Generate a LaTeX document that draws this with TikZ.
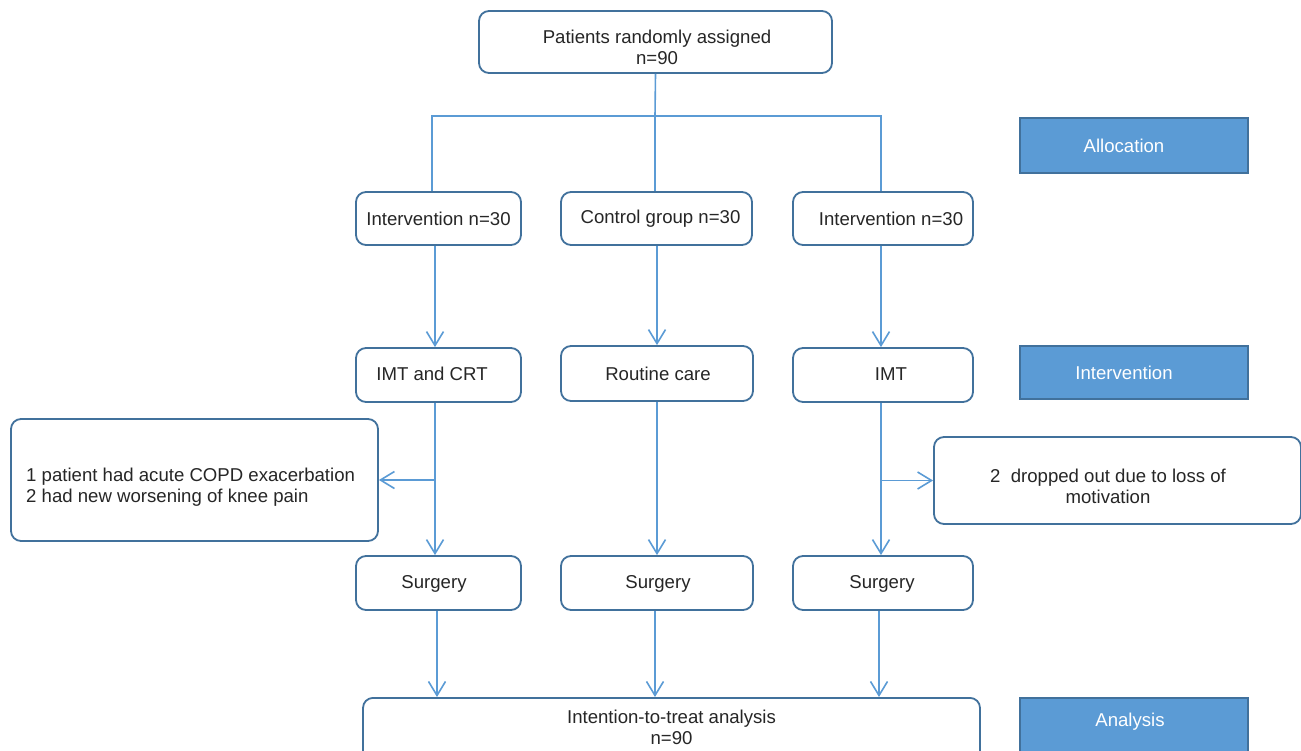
\documentclass[tikz,border=0pt]{standalone}
\usepackage{fontspec}
\setmainfont{Liberation Sans}
\usetikzlibrary{arrows.meta}
\definecolor{bord}{HTML}{41719C}
\definecolor{conn}{HTML}{5B9BD5}
\definecolor{txt}{HTML}{262626}
\tikzset{
  box/.style={draw=bord, line width=1.8pt, rounded corners=10pt, fill=white, text=txt, font=\fontsize{18.6}{21}\selectfont, align=center, inner sep=0pt},
  lab/.style={draw=bord, line width=1.8pt, fill=conn, text=white, font=\fontsize{18.6}{21}\selectfont, inner sep=0pt},
  plain/.style={text=txt, font=\fontsize{18.6}{21}\selectfont, align=center, inner sep=0pt},
  labtext/.style={text=white, font=\fontsize{18.6}{21}\selectfont, inner sep=0pt},
  conline/.style={draw=conn, line width=1.6pt},
  arr/.style={conline, -{Straight Barb[length=14pt,width=17pt,line width=1.6pt]}},
}
\begin{document}
\begin{tikzpicture}[x=1pt,y=-1pt]
\useasboundingbox (0,0) rectangle (1301,750);
\clip (0,0) rectangle (1301,750);
% top
\node[box, minimum width=353pt, minimum height=62pt] (top) at (655.5,42) {};
\node[plain] (topt) at (657,47) {Patients randomly assigned\\n=90};
% row 2
\node[box, minimum width=165pt, minimum height=53pt] (g1) at (438.5,218.5) {Intervention n=30};
\node[box, minimum width=191pt, minimum height=53pt] (g2) at (656.5,218.5) {\hspace*{8pt}Control group n=30};
\node[box, minimum width=180pt, minimum height=53pt] (g3) at (883,218.5) {\hspace*{16pt}Intervention n=30};
% row 3
\node[box, minimum width=165pt, minimum height=54pt] (i1) at (438.5,375) {};
\node[plain] (i1t) at (432,374) {IMT and CRT};
\node[box, minimum width=192pt, minimum height=55pt] (i2) at (657,373.5) {};
\node[plain] (i2t) at (658,374) {Routine care};
\node[box, minimum width=180pt, minimum height=54pt] (i3) at (883,375) {};
\node[plain] (i3t) at (891,374) {IMT};
% side boxes
\node[box, minimum width=367pt, minimum height=122pt] (s1) at (194.5,480) {};
\node[plain, align=left, anchor=west] (s1t) at (26,487) {1 patient had acute COPD exacerbation\\2 had new worsening of knee pain};
\node[box, minimum width=367pt, minimum height=87pt] (s3) at (1117.5,480.5) {};
\node[plain] (s3t) at (1108,486.5) {2\ \ dropped out due to loss of\\motivation};
% row 4
\node[box, minimum width=165pt, minimum height=54pt] (u1) at (438.5,583) {};
\node[plain] (u1t) at (434,584) {Surgery};
\node[box, minimum width=192pt, minimum height=54pt] (u2) at (657,583) {};
\node[plain] (u2t) at (658,584) {Surgery};
\node[box, minimum width=180pt, minimum height=54pt] (u3) at (883,583) {};
\node[plain] (u3t) at (882,584) {Surgery};
% bottom
\node[box, minimum width=617pt, minimum height=80pt, anchor=north] (an) at (671.5,697) {};
\node[plain] (ant) at (671.5,727) {Intention-to-treat analysis\\n=90};
% stage labels
\node[lab, minimum width=228pt, minimum height=55pt] (la) at (1134,145.5) {};
\node[labtext] (lat) at (1124,145.5) {Allocation};
\node[lab, minimum width=228pt, minimum height=53pt] (li) at (1134,372.5) {};
\node[labtext] (lit) at (1124,372.5) {Intervention};
\node[lab, minimum width=228pt, minimum height=60pt, anchor=north] (ly) at (1134,697) {};
\node[labtext] (lyt) at (1130,722) {Analysis};
% connectors
\coordinate (split) at (655,116);
\draw[conline] (top.south) -- (split);
\draw[conline] (g1.north -| 432,0) -- (432,116) -- (881,116) -- (g3.north -| 881,0);
\draw[conline] (split) -- (g2.north -| split);
\draw[arr] (g1.south -| 435,0) -- (i1.north -| 435,0);
\draw[arr] (g2.south -| 657,0) -- (i2.north -| 657,0);
\draw[arr] (g3.south -| 881,0) -- (i3.north -| 881,0);
\draw[arr] (i1.south -| 435,0) -- (u1.north -| 435,0);
\draw[arr] (i2.south -| 657,0) -- (u2.north -| 657,0);
\draw[arr] (i3.south -| 881,0) -- (u3.north -| 881,0);
\draw[arr] (s1.east -| 435,0) -- (s1.east);
\draw[arr] (s3.west -| 881,0) -- (s3.west);
\draw[arr] (u1.south -| 437,0) -- (an.north -| 437,0);
\draw[arr] (u2.south -| 655,0) -- (an.north -| 655,0);
\draw[arr] (u3.south -| 879,0) -- (an.north -| 879,0);
\end{tikzpicture}
\end{document}
